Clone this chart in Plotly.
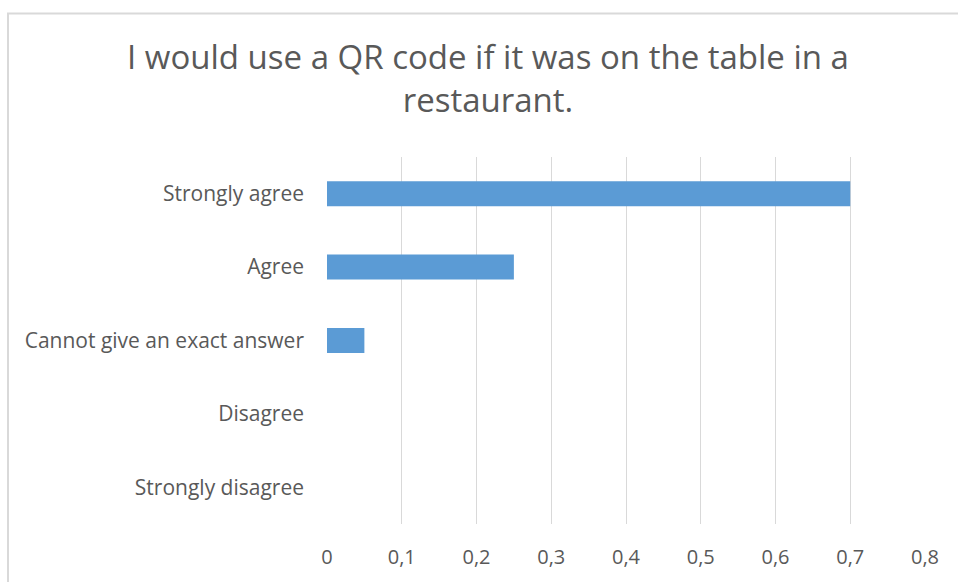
import plotly.graph_objects as go

# Survey responses (share of respondents)
categories = ["Strongly agree", "Agree", "Cannot give an exact answer", "Disagree", "Strongly disagree"]
shares = [0.70, 0.25, 0.05, 0.0, 0.0]

x_tick_values = [0, 0.1, 0.2, 0.3, 0.4, 0.5, 0.6, 0.7, 0.8]
x_tick_labels = ["0", "0,1", "0,2", "0,3", "0,4", "0,5", "0,6", "0,7", "0,8"]

title_text = "I would use a QR code if it was on the table in a<br>restaurant."

W, H = 958, 582
L, R, T, B = 327, 33, 157, 54
pw, ph = W - L - R, H - T - B

def px_x(x):
    return (x - L) / pw

def px_y(y):
    return (H - B - y) / ph

text_color = "#595959"
font_family = "Open Sans, Noto Sans, sans-serif"

fig = go.Figure(
    go.Bar(
        x=shares,
        y=categories,
        orientation="h",
        marker=dict(color="#5b9bd5", line=dict(width=0)),
        width=0.34,
        hoverinfo="x+y",
    )
)

fig.update_layout(
    width=W,
    height=H,
    margin=dict(l=L, r=R, t=T, b=B, pad=0),
    paper_bgcolor="white",
    plot_bgcolor="white",
    showlegend=False,
    title=dict(
        text=title_text,
        x=488 / W,
        xanchor="center",
        xref="container",
        y=1 - 69 / H,
        yanchor="top",
        yref="container",
        font=dict(family=font_family, size=33, color=text_color),
    ),
    xaxis=dict(
        range=[0, 0.8],
        tickvals=x_tick_values,
        ticktext=x_tick_labels,
        showgrid=True,
        gridcolor="#d9d9d9",
        gridwidth=1,
        zeroline=False,
        showline=False,
        ticks="",
        ticklabelstandoff=19,
        tickfont=dict(family=font_family, size=20, color=text_color),
        fixedrange=True,
    ),
    yaxis=dict(
        autorange="reversed",
        showgrid=False,
        zeroline=False,
        showline=False,
        ticks="",
        ticklabelstandoff=22,
        tickfont=dict(family=font_family, size=21, color=text_color),
        fixedrange=True,
    ),
    shapes=[
        dict(
            type="rect",
            xref="paper",
            yref="paper",
            x0=px_x(8),
            x1=px_x(1000),
            y0=px_y(640),
            y1=px_y(12),
            line=dict(color="#d9d9d9", width=2),
            fillcolor="rgba(0,0,0,0)",
            layer="below",
        )
    ],
)

fig.write_html("out.html")
